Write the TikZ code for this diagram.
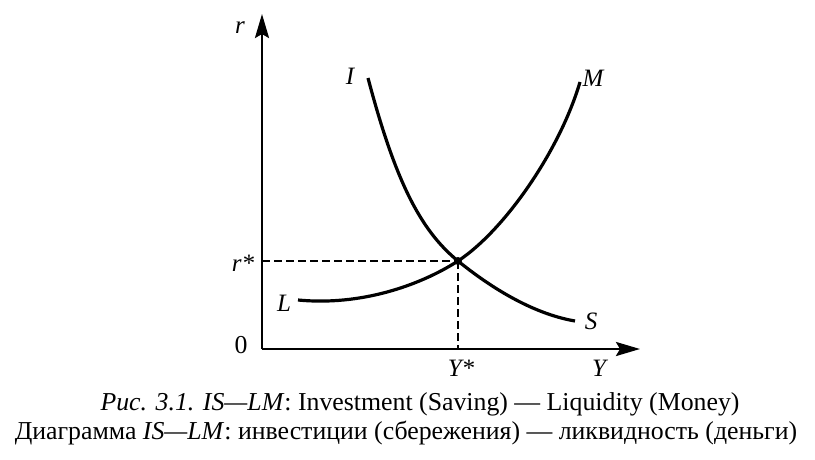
\documentclass[tikz,border=0pt]{standalone}
\usepackage{fontspec}
\setmainfont{Liberation Serif}
\usepackage{tikz}
\usetikzlibrary{arrows.meta}
\tikzset{
  axe/.style = {line width=2.6pt, -{Stealth[length=24pt,width=14pt,inset=4pt]}},% axes
  courbe/.style = {line width=3.2pt},% courbes IS et LM
  pointille/.style = {line width=2.4pt, dash pattern=on 8pt off 4pt},
  etiq/.style = {inner sep=0pt, font=\fontsize{25}{29}\selectfont\itshape},
  legende/.style = {inner sep=0pt, font=\fontsize{25.8}{30}\selectfont}
}
\begin{document}
\begin{tikzpicture}[x=1pt,y=-1pt]
\useasboundingbox (0,0) rectangle (815,459);
\coordinate (O) at (262,349);
\coordinate (rtop) at (262,14);
\coordinate (Yend) at (640,349);
\coordinate (E) at (458,261);% equilibre
\coordinate (rs) at (262,261);
\coordinate (Ys) at (458,349);
\draw [axe] (O) -- (rtop);
\draw [axe] (O) -- (Yend);
\draw [pointille] (rs) -- (E);
\draw [pointille] (E) -- (Ys);
% IS
\draw [courbe] (368,78) .. controls (395,180) and (420,230) .. (E)
  .. controls (500,295) and (540,315) .. (575,321);
% LM
\draw [courbe] (298,300) .. controls (360,306) and (419,286) .. (E)
  .. controls (505,230) and (560,150) .. (580,82);
\fill (E) circle (4pt);
\node [etiq] (lr) at (240,28) {r};
\node [legende] (l0) at (241,345) {0};
\node [etiq] (lrs) at (243,263) {r*};
\node [etiq] (lYs) at (461,368) {Y*};
\node [etiq] (lY) at (599,368) {Y};
\node [etiq] (lI) at (350,76) {I};
\node [etiq] (lM) at (593,78) {M};
\node [etiq] (lL) at (284,303) {L};
\node [etiq] (lS) at (591,321) {S};
\node [legende] (cap1) at (420,404) {\textit{Рис. 3.1. IS---LM}: Investment (Saving) --- Liquidity (Money)};
\node [legende] (cap2) at (406,433) {Диаграмма \textit{IS---LM}: инвестиции (сбережения) --- ликвидность (деньги)};
\end{tikzpicture}
\end{document}
